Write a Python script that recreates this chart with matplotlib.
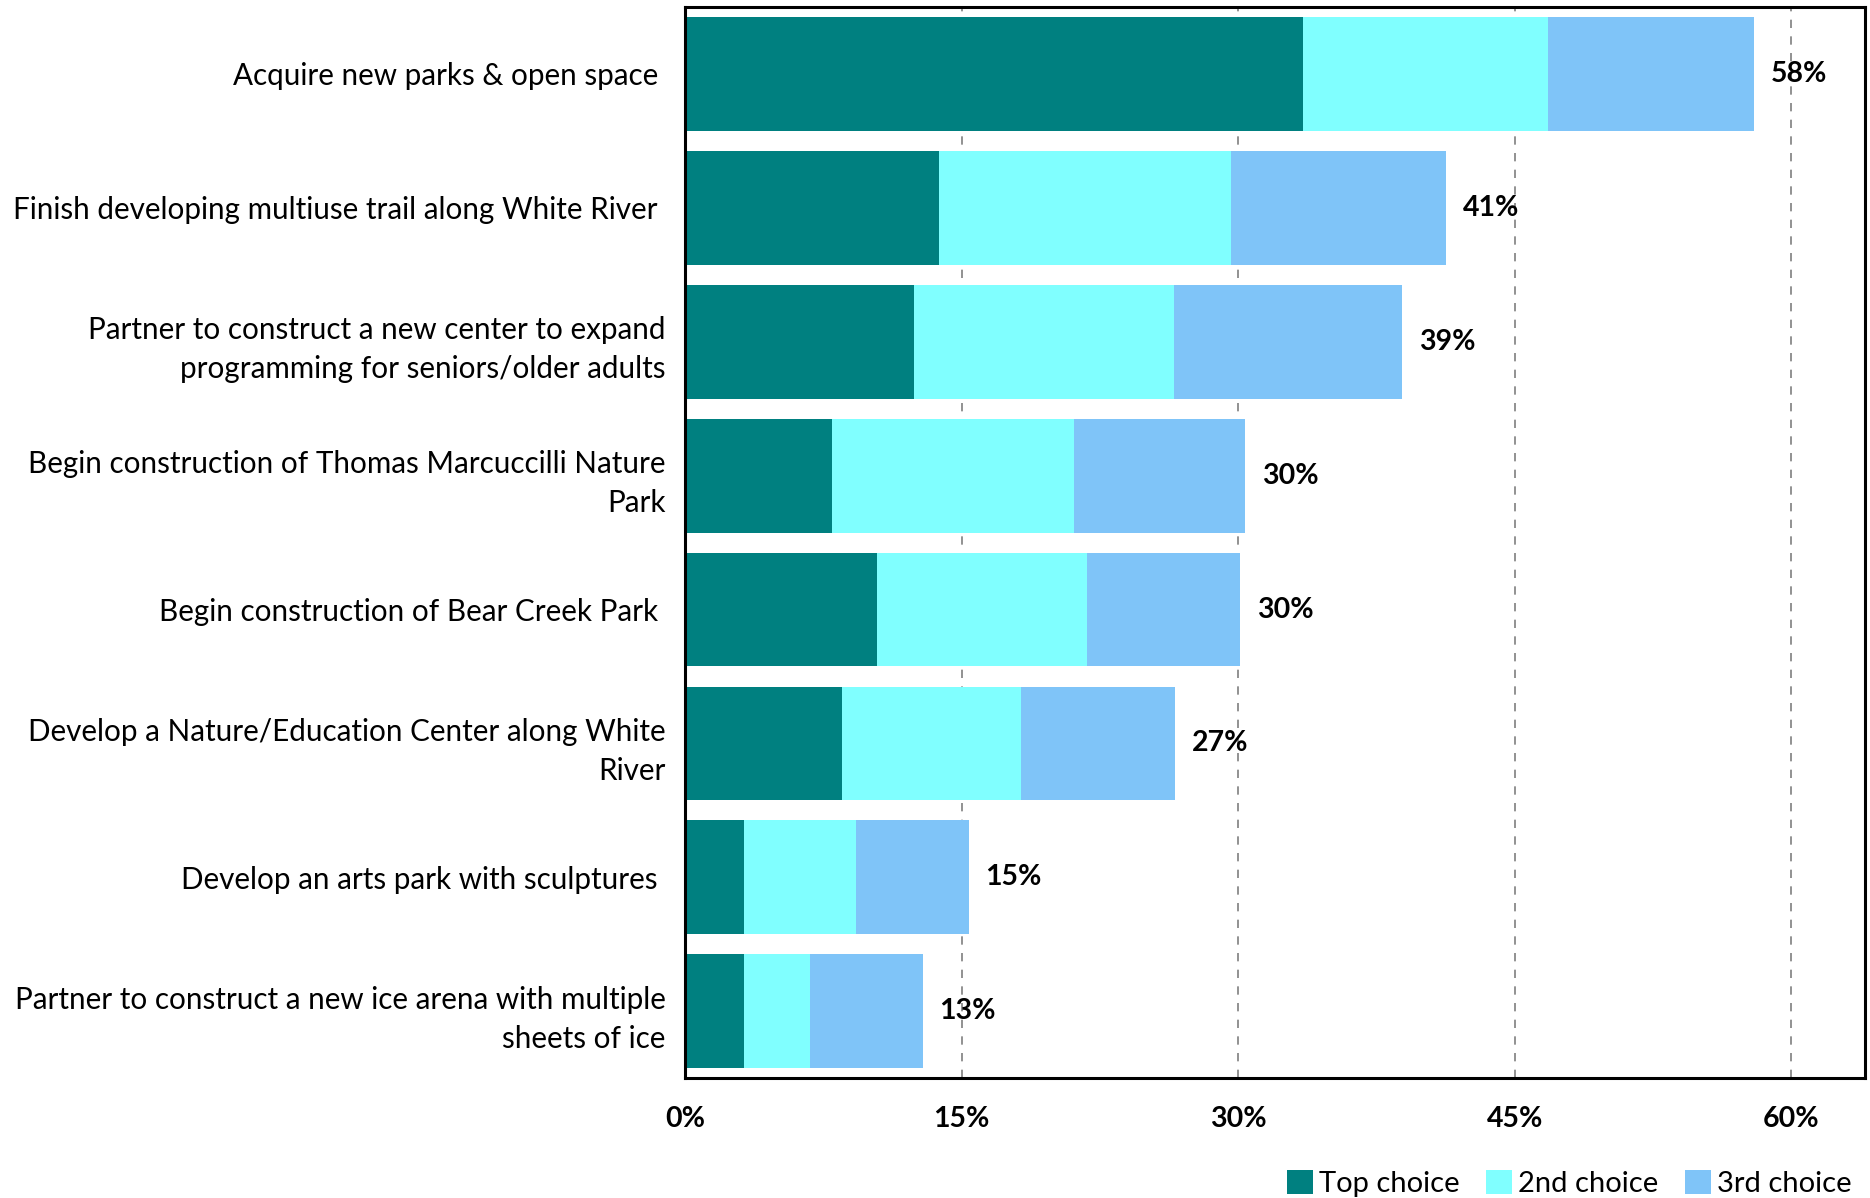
import matplotlib
matplotlib.use("Agg")
import matplotlib.pyplot as plt
from matplotlib.ticker import FuncFormatter

plt.rcParams['font.family'] = ['Lato', 'DejaVu Sans']

categories = [
    "Acquire new parks & open space ",
    "Finish developing multiuse trail along White River ",
    "Partner to construct a new center to expand\nprogramming for seniors/older adults",
    "Begin construction of Thomas Marcuccilli Nature\nPark",
    "Begin construction of Bear Creek Park ",
    "Develop a Nature/Education Center along White\nRiver",
    "Develop an arts park with sculptures ",
    "Partner to construct a new ice arena with multiple\nsheets of ice",
]
top_choice = [33.5, 13.8, 12.4, 8.0, 10.4, 8.5, 3.2, 3.2]
second_choice = [13.3, 15.8, 14.1, 13.1, 11.4, 9.7, 6.1, 3.6]
third_choice = [11.2, 11.7, 12.4, 9.3, 8.3, 8.4, 6.1, 6.1]
series_names = ["Top choice", "2nd choice", "3rd choice"]
colors = ["#008080", "#80FFFF", "#7FC4F8"]
x_ticks = [0, 15, 30, 45, 60]

fig = plt.figure(figsize=(18.7, 11.98), dpi=100)
ax = fig.add_axes([0.3663, 0.100, 0.6310, 0.8942])

y = list(range(len(categories)))
left = [0.0] * len(categories)
for vals, name, col in zip([top_choice, second_choice, third_choice], series_names, colors):
    ax.barh(y, vals, left=left, height=0.85, color=col, label=name, zorder=2)
    left = [a + b for a, b in zip(left, vals)]

for yi, total in zip(y, left):
    ax.annotate(f"{round(total)}%", xy=(total, yi), xytext=(12, 0), textcoords="offset points",
                ha="left", va="center", fontsize=20.5, fontweight="bold", zorder=3)

ax.set_xlim(0, 64)
ax.set_ylim(len(categories) - 0.5, -0.5)
ax.set_xticks(x_ticks)
ax.xaxis.set_major_formatter(FuncFormatter(lambda v, p: f"{int(v)}%"))
ax.set_yticks(y)
ax.set_yticklabels(categories, linespacing=1.48)
ax.tick_params(axis="y", length=0, pad=14, labelsize=21.3)
ax.tick_params(axis="x", length=0, pad=20, labelsize=20.5)
for lbl in ax.get_xticklabels():
    lbl.set_fontweight("bold")

ax.grid(axis="x", linestyle=(0, (5, 5)), color="#7f7f7f", linewidth=1.2, zorder=1)
ax.grid(axis="y", visible=False)
for sp in ax.spines.values():
    sp.set_linewidth(2.2)
    sp.set_color("black")

ax.legend(loc="lower right", bbox_to_anchor=(0.990, 0.001), bbox_transform=fig.transFigure,
          ncol=3, frameon=False, fontsize=21, handlelength=0.9, handleheight=0.9,
          handletextpad=0.2, columnspacing=0.9, borderaxespad=0, borderpad=0)

fig.savefig("out.png", dpi=100)
